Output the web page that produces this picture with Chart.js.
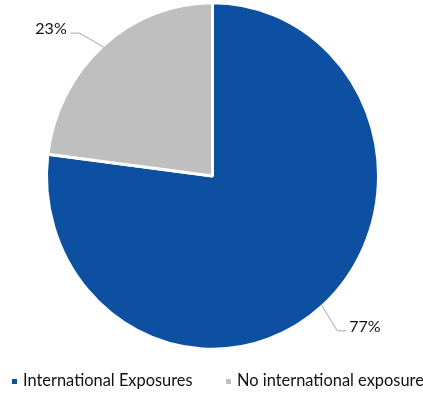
<!DOCTYPE html>
<html>
<head>
<meta charset="utf-8">
<script src="https://cdn.jsdelivr.net/npm/chart.js@4.4.1/dist/chart.umd.min.js"></script>
<style>
  html, body { margin: 0; padding: 0; background: #fff; }
  #wrap { width: 423px; height: 394px; position: relative; }
</style>
</head>
<body>
<div id="wrap"><canvas id="pieChart" width="423" height="394"></canvas></div>
<script>
const categories = ["International Exposures", "No international exposure"];
const shares = [77, 23];
const sliceColors = ["#0D4FA0", "#BFBFBF"];

const FONT = "Lato, 'Noto Sans', sans-serif";
const Y_STRETCH = 1.044;

// pie is drawn slightly taller than wide
const stretchPlugin = {
    id: "stretch",
    beforeDatasetsDraw(chart) {
        const arc = chart.getDatasetMeta(0).data[0];
        const ctx = chart.ctx;
        ctx.save();
        ctx.translate(0, arc.y);
        ctx.scale(1, Y_STRETCH);
        ctx.translate(0, -arc.y);
    },
    afterDatasetsDraw(chart) {
        chart.ctx.restore();
    }
};

// percentage labels with elbow leader lines
const leaderPlugin = {
    id: "leaders",
    afterDraw(chart) {
        const ctx = chart.ctx;
        const meta = chart.getDatasetMeta(0);
        meta.data.forEach((arc, i) => {
            const mid = (arc.startAngle + arc.endAngle) / 2;
            const r = arc.outerRadius - 1.5;
            const ex = arc.x + Math.cos(mid) * r;
            const ey = arc.y + Math.sin(mid) * r * Y_STRETCH;
            const right = Math.cos(mid) >= 0;
            const dir = right ? 1 : -1;
            const kx = ex + dir * (right ? 16 : 24);
            const ky = ey + Math.sign(Math.sin(mid)) * (right ? 26 : 14);
            const hx = kx + dir * 9;

            ctx.save();
            ctx.strokeStyle = "#A6A6A6";
            ctx.lineWidth = 1;
            ctx.beginPath();
            ctx.moveTo(ex, ey);
            ctx.lineTo(kx, ky);
            ctx.lineTo(hx, ky);
            ctx.stroke();

            ctx.fillStyle = "#111111";
            ctx.font = "16px " + FONT;
            ctx.textBaseline = "alphabetic";
            ctx.textAlign = right ? "left" : "right";
            ctx.fillText(shares[i] + "%", hx + dir * (right ? 3 : 4), ky + 1);
            ctx.restore();
        });
    }
};

// legend row along the bottom
const legendPlugin = {
    id: "bottomLegend",
    afterDraw(chart) {
        const ctx = chart.ctx;
        const starts = [12, 226];
        ctx.save();
        ctx.font = "16.4px " + FONT;
        ctx.textBaseline = "middle";
        ctx.textAlign = "left";
        categories.forEach((name, i) => {
            ctx.fillStyle = sliceColors[i];
            ctx.fillRect(starts[i], 379, 5, 5);
            ctx.fillStyle = "#111111";
            ctx.fillText(name, starts[i] + 11, 381);
        });
        ctx.restore();
    }
};

new Chart(document.getElementById("pieChart").getContext("2d"), {
    type: "pie",
    data: {
        labels: categories,
        datasets: [{
            data: shares,
            backgroundColor: sliceColors,
            borderColor: "#ffffff",
            borderWidth: 3
        }]
    },
    options: {
        responsive: false,
        animation: false,
        layout: { padding: { left: 45, right: 43, top: 0, bottom: 42 } },
        plugins: {
            legend: { display: false },
            tooltip: { enabled: false }
        }
    },
    plugins: [stretchPlugin, leaderPlugin, legendPlugin]
});
</script>
</body>
</html>
